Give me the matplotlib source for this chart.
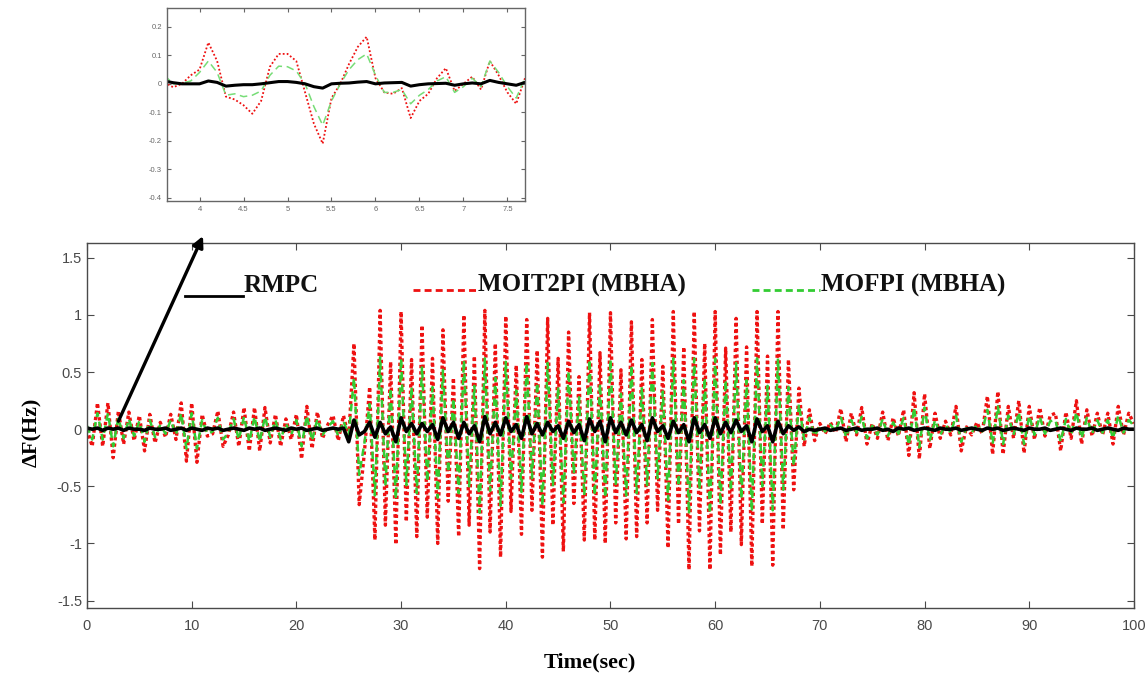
"""
plot.py
-------
Frequency deviation of the three controllers over a 100 s run, with a
zoomed inset of the 3.6-7.7 s window.
"""

import numpy as np
import matplotlib
matplotlib.use("Agg")
import matplotlib.pyplot as plt
from matplotlib.lines import Line2D

SERIF = ["Liberation Serif", "DejaVu Serif"]
SANS = ["Liberation Sans", "DejaVu Sans"]

# ---- main run, sampled every 0.5 s from 0 to 100 s ----
time_s = np.linspace(0, 100, 201)

moit2pi = [
    # 0 - 25 s
    0.00, -0.15, 0.23, -0.15, 0.23, -0.25, 0.16, -0.13, 0.15, -0.10,
    0.12, -0.19, 0.13, -0.12, 0.06, -0.07, 0.13, -0.09, 0.23, -0.28,
    0.23, -0.29, 0.13, -0.06, -0.04, 0.16, -0.15, -0.05, 0.15, -0.15,
    0.19, -0.19, 0.19, -0.19, 0.19, -0.12, 0.13, -0.15, 0.09, -0.09,
    0.13, -0.26, 0.20, -0.17, 0.15, -0.08, 0.04, 0.12, -0.10, 0.12,
    -0.08,
    # 25.5 - 67.5 s
    0.75, -0.66, -0.20, 0.37, -0.97, 1.04, -0.84, 0.59, -1.01, 1.03,
    -0.81, 0.61, -0.94, 0.91, -0.77, 0.62, -1.00, 0.87, -0.63, 0.45,
    -0.94, 1.00, -0.84, 0.64, -1.22, 1.04, -0.90, 0.75, -1.12, 0.99,
    -0.72, 0.56, -0.92, 0.96, -0.71, 0.69, -1.12, 0.97, -0.84, 0.62,
    -1.07, 0.85, -0.65, 0.46, -0.97, 1.02, -0.97, 0.67, -1.00, 1.02,
    -0.82, 0.52, -0.96, 0.94, -0.94, 0.61, -0.82, 0.96, -0.71, 0.55,
    -1.04, 1.03, -0.83, 0.72, -1.23, 1.03, -0.89, 0.75, -1.23, 1.03,
    -1.10, 0.71, -0.90, 0.97, -1.01, 0.72, -1.20, 1.03, -0.83, 0.64,
    -1.19, 1.03, -0.88, 0.61, -0.53,
    # 68 - 100 s
    0.36, -0.15, 0.17, -0.10, 0.05, -0.04, 0.06, -0.03, 0.18, -0.11,
    0.14, -0.05, 0.19, -0.13, 0.05, -0.08, 0.15, -0.10, 0.10, -0.06,
    0.17, -0.23, 0.32, -0.26, 0.31, -0.17, 0.14, -0.08, 0.07, -0.05,
    0.20, -0.19, 0.02, -0.05, 0.06, -0.04, 0.29, -0.22, 0.33, -0.22,
    0.20, -0.08, 0.25, -0.21, 0.20, -0.09, 0.19, -0.06, 0.12,
    0.14, -0.19, 0.15, -0.08, 0.25, -0.13, 0.17, -0.06, 0.14, -0.05,
    0.14, -0.13, 0.20, -0.05, 0.14, 0.05,
]

mofpi = [
    # 0 - 25 s
    0.03, -0.09, 0.14, -0.09, 0.14, -0.15, 0.10, -0.08, 0.09, -0.06,
    0.07, -0.11, 0.08, -0.07, 0.04, -0.04, 0.08, -0.05, 0.14, -0.17,
    0.14, -0.17, 0.08, -0.04, -0.02, 0.10, -0.09, -0.03, 0.09, -0.09,
    0.11, -0.11, 0.11, -0.11, 0.11, -0.07, 0.08, -0.09, 0.05, -0.05,
    0.08, -0.15, 0.12, -0.10, 0.09, -0.05, 0.02, 0.07, -0.06, 0.07,
    -0.05,
    # 25.5 - 67.5 s
    0.45, -0.40, -0.12, 0.22, -0.58, 0.63, -0.50, 0.36, -0.61, 0.62,
    -0.49, 0.37, -0.56, 0.55, -0.46, 0.37, -0.60, 0.52, -0.38, 0.27,
    -0.56, 0.60, -0.50, 0.38, -0.73, 0.62, -0.54, 0.45, -0.67, 0.59,
    -0.43, 0.34, -0.55, 0.58, -0.43, 0.41, -0.67, 0.58, -0.50, 0.37,
    -0.64, 0.51, -0.39, 0.28, -0.58, 0.61, -0.58, 0.40, -0.60, 0.61,
    -0.49, 0.31, -0.58, 0.56, -0.56, 0.37, -0.49, 0.58, -0.43, 0.33,
    -0.62, 0.62, -0.50, 0.43, -0.74, 0.62, -0.53, 0.45, -0.74, 0.62,
    -0.66, 0.43, -0.54, 0.58, -0.61, 0.43, -0.72, 0.62, -0.50, 0.38,
    -0.71, 0.62, -0.53, 0.37, -0.32,
    # 68 - 100 s
    0.22, -0.09, 0.10, -0.06, 0.03, -0.02, 0.04, -0.02, 0.11, -0.07,
    0.08, -0.03, 0.11, -0.08, 0.03, -0.05, 0.09, -0.06, 0.06, -0.04,
    0.10, -0.14, 0.19, -0.16, 0.19, -0.10, 0.08, -0.05, 0.04, -0.03,
    0.12, -0.11, 0.01, -0.03, 0.04, -0.02, 0.17, -0.13, 0.20, -0.13,
    0.12, -0.05, 0.15, -0.13, 0.12, -0.05, 0.11, -0.04, 0.07,
    0.08, -0.11, 0.09, -0.05, 0.15, -0.08, 0.10, -0.04, 0.08, -0.03,
    0.08, -0.08, 0.12, -0.03, 0.08, 0.03,
]

rmpc = [
    # 0 - 25 s
    0.01, 0.00, 0.01, -0.01, 0.01, 0.00, 0.01, -0.01, 0.01, 0.00,
    0.00, -0.01, 0.01, 0.00, 0.00, 0.01, -0.01, 0.00, 0.01, -0.01,
    0.01, 0.00, -0.01, 0.01, 0.00, 0.01, -0.01, 0.00, 0.01, 0.00,
    -0.01, 0.01, 0.00, 0.01, -0.01, 0.00, 0.01, 0.00, -0.01, 0.01,
    0.00, 0.01, -0.01, 0.00, 0.01, -0.01, 0.00, 0.01, 0.00, 0.01,
    -0.11,
    # 25.5 - 67.5 s
    0.08, -0.05, -0.02, 0.06, -0.07, 0.06, -0.04, 0.02, -0.11, 0.10,
    -0.02, 0.05, -0.04, 0.05, -0.02, 0.04, -0.09, 0.10, -0.02, 0.06,
    -0.08, 0.06, -0.04, 0.03, -0.11, 0.11, -0.04, 0.06, -0.05, 0.10,
    -0.02, 0.04, -0.08, 0.11, -0.04, 0.05, -0.05, 0.06, -0.02, 0.03,
    -0.08, 0.07, -0.03, 0.04, -0.10, 0.09, -0.02, 0.07, -0.11, 0.10,
    -0.03, 0.06, -0.05, 0.08, -0.03, 0.04, -0.10, 0.10, -0.02, 0.03,
    -0.08, 0.07, -0.03, 0.04, -0.11, 0.10, -0.03, 0.04, -0.08, 0.10,
    -0.04, 0.06, -0.03, 0.08, -0.02, 0.03, -0.11, 0.09, -0.02, 0.03,
    -0.11, 0.07, -0.04, 0.03, -0.01,
    # 68 - 100 s
    0.02, -0.02, 0.00, -0.01, 0.00, 0.01, -0.01, 0.00, 0.01, -0.01,
    0.00, 0.01, -0.01, 0.00, 0.00, 0.01, -0.01, 0.00, -0.02, 0.01,
    0.00, 0.01, -0.01, 0.00, 0.01, 0.00, -0.01, 0.01, 0.00, 0.00,
    0.01, -0.01, 0.00, 0.01, 0.00, -0.01, 0.01, 0.00, 0.01, -0.01,
    0.00, 0.01, 0.00, -0.01, 0.01, 0.00, 0.00, 0.01, -0.01,
    0.00, 0.01, 0.00, -0.01, 0.01, 0.00, 0.00, 0.01, -0.01, 0.00,
    0.01, 0.00, -0.01, 0.01, 0.00, 0.00,
]

# ---- zoomed window, sampled every 0.1 s from 3.6 to 7.7 s ----
zoom_time = np.linspace(3.6, 7.7, 42)

zoom_moit2pi = [
    0.005, -0.012, 0.000, 0.030, 0.050, 0.145, 0.080, -0.045, -0.055, -0.075,
    -0.105, -0.060, 0.060, 0.105, 0.105, 0.080, -0.030, -0.140, -0.210, -0.050,
    0.000, 0.070, 0.130, 0.165, 0.020, -0.030, -0.035, -0.015, -0.120, -0.060,
    -0.035, 0.020, 0.055, -0.025, 0.000, 0.025, -0.020, 0.080, 0.030, -0.030,
    -0.070, 0.020,
]
zoom_mofpi = [
    0.030, 0.000, 0.002, 0.010, 0.040, 0.080, 0.040, -0.040, -0.035, -0.045,
    -0.040, -0.025, 0.030, 0.062, 0.060, 0.045, 0.000, -0.080, -0.145, -0.060,
    0.000, 0.050, 0.085, 0.105, 0.030, -0.030, -0.030, -0.020, -0.070, -0.040,
    -0.020, 0.010, 0.025, -0.030, -0.010, 0.020, -0.010, 0.080, 0.040, -0.010,
    -0.050, 0.020,
]
zoom_rmpc = [
    0.010, 0.004, 0.000, 0.000, 0.000, 0.010, 0.005, -0.008, -0.005, -0.003,
    -0.003, 0.000, 0.004, 0.008, 0.008, 0.005, 0.000, -0.010, -0.015, 0.000,
    0.002, 0.003, 0.006, 0.008, 0.000, 0.003, 0.004, 0.005, -0.008, -0.003,
    0.000, 0.001, 0.002, -0.005, 0.000, 0.003, 0.000, 0.012, 0.005, 0.000,
    -0.005, 0.005,
]

main_yticks = [-1.5, -1, -0.5, 0, 0.5, 1, 1.5]
main_ytick_labels = ["-1.5", "-1", "-0.5", "0", "0.5", "1", "1.5"]
main_xticks = [0, 10, 20, 30, 40, 50, 60, 70, 80, 90, 100]
zoom_xticks = [4, 4.5, 5, 5.5, 6, 6.5, 7, 7.5]
zoom_yticks = [-0.4, -0.3, -0.2, -0.1, 0, 0.1, 0.2]
zoom_ytick_labels = ["-0.4", "-0.3", "-0.2", "-0.1", "0", "0.1", "0.2"]

RED = "#ee1111"
GREEN = "#33cc33"


def style_axes(ax, size, color):
    ax.tick_params(direction="in", top=True, right=True, labelsize=size,
                   labelcolor=color, color=color, length=size * 0.5, width=0.8)
    for lab in ax.get_xticklabels() + ax.get_yticklabels():
        lab.set_family(SANS)
    for sp in ax.spines.values():
        sp.set_color(color)
        sp.set_linewidth(1.0)


fig = plt.figure(figsize=(11.46, 6.82), dpi=100)

# ---- main axes ----
ax = fig.add_axes([0.0759, 0.1085, 0.9136, 0.5352])
ax.plot(time_s, moit2pi, color=RED, lw=2.4, dashes=(1.0, 0.9))
ax.plot(time_s, mofpi, color=GREEN, lw=1.8, dashes=(3, 2))
ax.plot(time_s, rmpc, color="black", lw=2.6)
ax.set_xlim(0, 100)
ax.set_ylim(-1.565, 1.63)
ax.set_xticks(main_xticks)
ax.set_xticklabels([str(v) for v in main_xticks])
ax.set_yticks(main_yticks)
ax.set_yticklabels(main_ytick_labels)
style_axes(ax, 10.5, "#4a4a4a")
ax.tick_params(axis="x", pad=8)

# hand-drawn legend entries along the top of the axes
legend_items = [
    ("RMPC", "black", "-", 0.094, 0.149),
    ("MOIT2PI (MBHA)", RED, "--", 0.311, 0.372),
    ("MOFPI (MBHA)", GREEN, "--", 0.635, 0.700),
]
for label, color, ls, x0, x1 in legend_items:
    y_line = 0.855 if ls == "-" else 0.871
    line = Line2D([x0, x1], [y_line, y_line], transform=ax.transAxes,
                  color=color, lw=2.0)
    if ls == "--":
        line.set_dashes((2.5, 1.5))
    ax.add_line(line)
    ax.text(x1 + 0.001, 0.884, label, transform=ax.transAxes, ha="left",
            va="center", fontsize=18, fontweight="bold", family=SERIF,
            color="#111111")

fig.text(590 / 1146, 1 - 662 / 682, "Time(sec)", ha="center", va="center",
         fontsize=16, fontweight="bold", family=SERIF)
fig.text(32 / 1146, 1 - 432 / 682, "ΔF(Hz)", ha="center", va="center",
         rotation=90, fontsize=16, fontweight="bold", family=SERIF)

# arrow pointing from the start of the run up to the zoomed window
ax.annotate("", xy=(203 / 1146, 1 - 236 / 682), xycoords="figure fraction",
            xytext=(3.0, 0.07), textcoords="data", annotation_clip=False,
            arrowprops=dict(arrowstyle="-|>", lw=2.4, color="black",
                            mutation_scale=16, shrinkA=0, shrinkB=0))

# ---- inset ----
axi = fig.add_axes([167 / 1146, 1 - 201 / 682, 358 / 1146, 193 / 682])
axi.plot(zoom_time, zoom_moit2pi, color=RED, lw=1.3, dashes=(1, 1.2))
axi.plot(zoom_time, zoom_mofpi, color="#77dd77", lw=1.1, dashes=(5, 3))
axi.plot(zoom_time, zoom_rmpc, color="black", lw=2.2)
axi.set_xlim(3.63, 7.70)
axi.set_ylim(-0.411, 0.266)
axi.set_xticks(zoom_xticks)
axi.set_xticklabels([f"{v:g}" for v in zoom_xticks])
axi.set_yticks(zoom_yticks)
axi.set_yticklabels(zoom_ytick_labels)
style_axes(axi, 5.5, "#666666")

fig.savefig("out.png", dpi=100)
